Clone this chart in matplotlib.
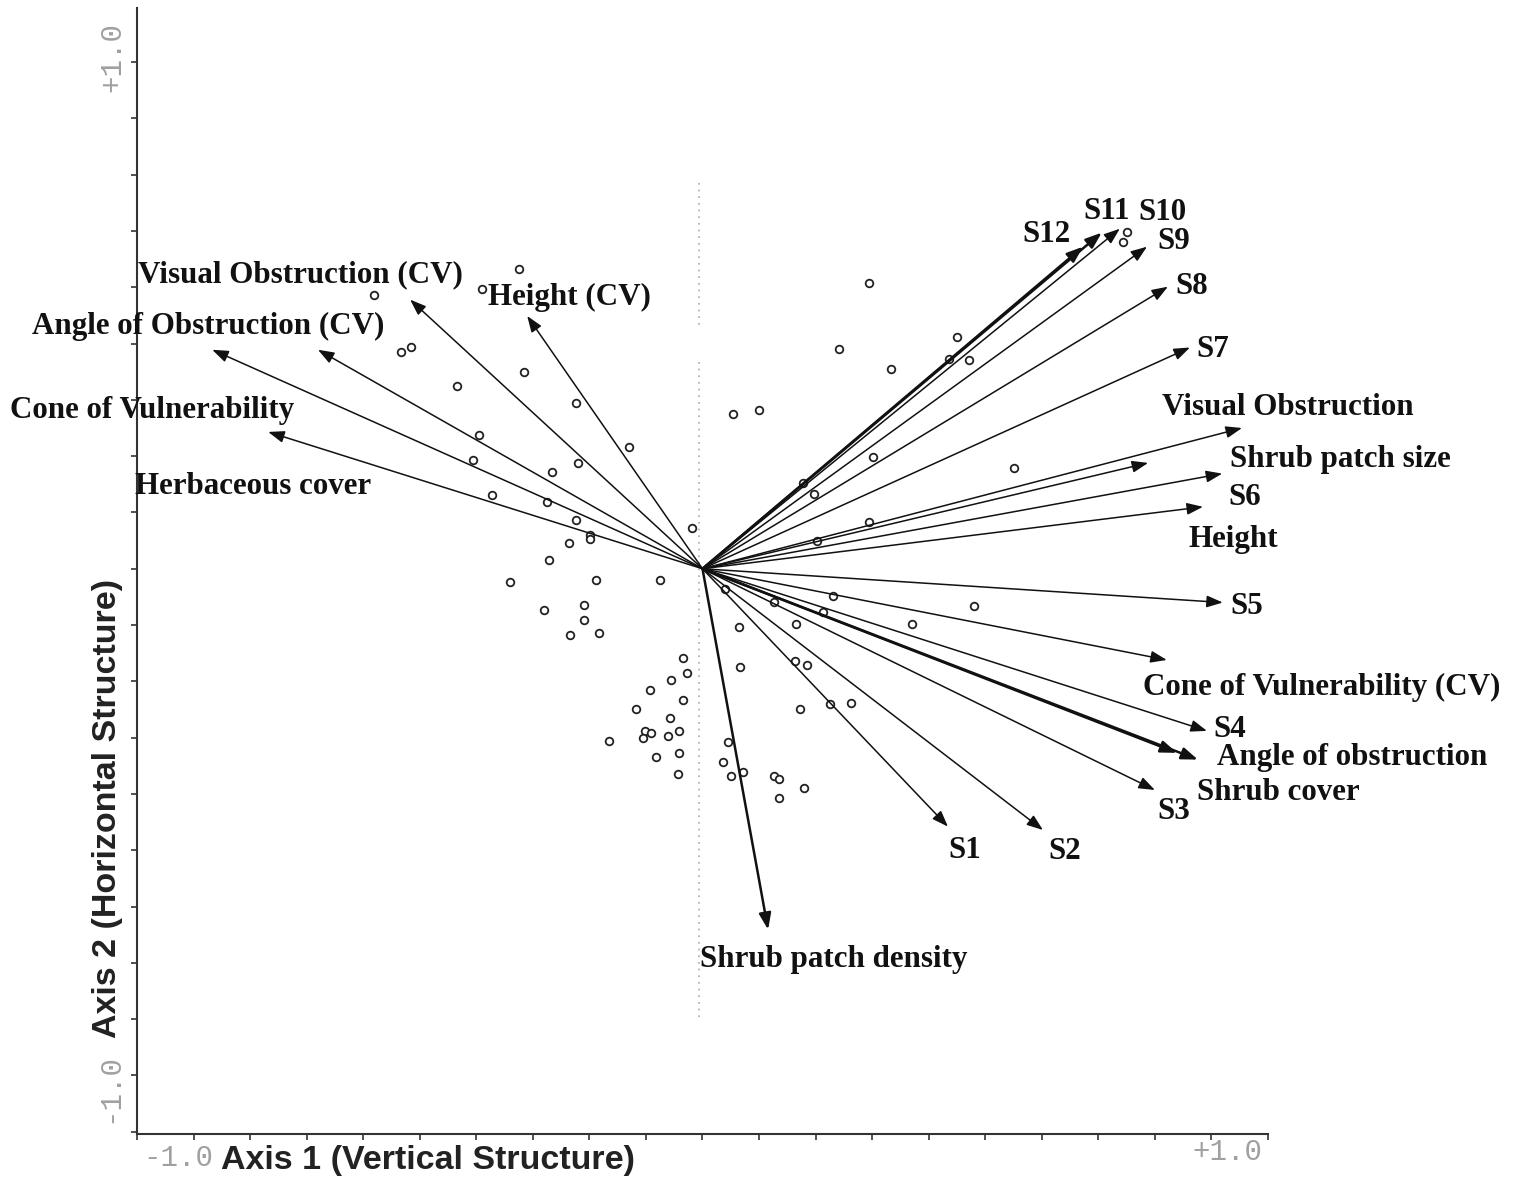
import numpy as np
import matplotlib
matplotlib.use("Agg")
import matplotlib.pyplot as plt

# Sitios (puntos)
sitios_x = [-0.324, -0.581, -0.390, -0.533, -0.515, -0.316, -0.434, -0.224, -0.395, -0.130,
            -0.406, -0.266, -0.220, -0.372, -0.275, -0.224, -0.199, -0.199, -0.236, -0.019,
            -0.271, -0.340, -0.188, -0.075, -0.280, -0.210, -0.210, -0.234, -0.183,
            -0.034, -0.027, -0.056, -0.093, -0.034, -0.118, -0.057, -0.102, -0.091, -0.105,
            -0.061, -0.042, -0.165, -0.082, -0.042, -0.043,
            0.294, 0.450, 0.241, 0.436, 0.471, 0.333, 0.054, 0.100, 0.301, 0.551,
            0.177, 0.197, 0.294, 0.202, 0.040, 0.126, 0.231, 0.213, 0.480, 0.370,
            0.065, 0.165, 0.066, 0.164, 0.185, 0.172, 0.225, 0.262, 0.045, 0.036,
            0.050, 0.072, 0.126, 0.135, 0.179, 0.135, 0.751, 0.744]
sitios_y = [0.533, 0.487, 0.497, 0.385, 0.394, 0.350, 0.325, 0.295, 0.238, 0.217,
            0.194, 0.171, 0.187, 0.131, 0.119, 0.087, 0.060, 0.052, 0.046, 0.073,
            0.016, -0.023, -0.020, -0.020, -0.073, -0.064, -0.091, -0.117, -0.114,
            -0.158, -0.185, -0.197, -0.215, -0.233, -0.250, -0.265, -0.288, -0.291, -0.300,
            -0.297, -0.288, -0.306, -0.334, -0.327, -0.364,
            0.508, 0.412, 0.391, 0.373, 0.371, 0.355, 0.274, 0.282, 0.199, 0.179,
            0.153, 0.133, 0.083, 0.050, -0.036, -0.059, -0.048, -0.076, -0.067, -0.099,
            -0.103, -0.099, -0.174, -0.163, -0.171, -0.250, -0.240, -0.238, -0.307, -0.343,
            -0.368, -0.361, -0.369, -0.373, -0.389, -0.407, 0.599, 0.581]

# Vectores (variables)
variables = ["Visual Obstruction (CV)", "Height (CV)", "Angle of Obstruction (CV)",
             "Cone of Vulnerability", "Herbaceous cover",
             "S12", "S11", "S10", "S9", "S8", "S7",
             "Visual Obstruction", "Height", "Shrub patch size", "S6",
             "S5", "Cone of Vulnerability (CV)", "S4", "Angle of obstruction",
             "Shrub cover", "S3", "S2", "S1", "Shrub patch density"]
vec_x = [-0.517, -0.310, -0.680, -0.867, -0.768,
         0.673, 0.706, 0.738, 0.786, 0.823, 0.862,
         0.954, 0.788, 0.919, 0.885,
         0.920, 0.821, 0.892, 0.839,
         0.876, 0.800, 0.602, 0.434, 0.116]
vec_y = [0.478, 0.449, 0.389, 0.389, 0.243,
         0.572, 0.597, 0.604, 0.572, 0.501, 0.393,
         0.250, 0.188, 0.169, 0.110,
         -0.060, -0.162, -0.288, -0.327,
         -0.339, -0.393, -0.464, -0.458, -0.641]

# Posicion de las etiquetas (inicio del texto)
etiq_x = [-0.998, -0.379, -1.186, -1.225, -1.004,
          0.565, 0.673, 0.770, 0.804, 0.836, 0.874,
          0.813, 0.859, 0.933, 0.930,
          0.933, 0.779, 0.903, 0.910,
          0.874, 0.805, 0.611, 0.434, -0.004]
etiq_y = [0.522, 0.481, 0.430, 0.281, 0.146,
          0.593, 0.634, 0.632, 0.581, 0.501, 0.389,
          0.286, 0.052, 0.194, 0.126,
          -0.067, -0.211, -0.286, -0.336,
          -0.398, -0.432, -0.503, -0.501, -0.694]

gruesas = ["S12", "S11", "Angle of obstruction", "Shrub cover", "Shrub patch density"]

# Linea punteada del eje
punteada_x = -0.006
punteada_tramos = [(0.686, 0.433), (0.368, -0.798)]

fig = plt.figure(figsize=(15.2, 11.8), dpi=100)
ax = fig.add_axes([137 / 1520, 46 / 1180, 1131 / 1520, 1126 / 1180])
ax.set_xlim(-1.0, 1.0)
ax.set_ylim(-1.004, 0.996)

for y0, y1 in punteada_tramos:
    ax.plot([punteada_x, punteada_x], [y0, y1], color="#aaaaaa", lw=1.2,
            linestyle=(0, (1, 3)), zorder=1)

ax.scatter(sitios_x, sitios_y, s=30, facecolors="white", edgecolors="#222222",
           linewidths=1.3, zorder=3)

for nombre, vx, vy, tx, ty in zip(variables, vec_x, vec_y, etiq_x, etiq_y):
    lw = 1.8 if nombre in gruesas else 1.1
    ax.annotate("", xy=(vx, vy), xytext=(0, 0),
                arrowprops=dict(arrowstyle="-|>,head_length=0.65,head_width=0.24",
                                mutation_scale=15, lw=lw, color="#111111",
                                shrinkA=0, shrinkB=0), zorder=4)
    ax.text(tx, ty, nombre, ha="left", va="center", fontsize=22.3,
            family="Liberation Serif", fontweight="bold", color="#111111",
            clip_on=False, zorder=5)

# Ejes
for lado in ["top", "right"]:
    ax.spines[lado].set_visible(False)
for lado in ["left", "bottom"]:
    ax.spines[lado].set_linewidth(1.5)
    ax.spines[lado].set_color("#333333")
ax.set_xticks(np.arange(-1.0, 1.001, 0.1))
ax.set_yticks(np.arange(-1.0, 0.95, 0.1))
ax.set_xticklabels([])
ax.set_yticklabels([])
ax.tick_params(direction="out", length=4, width=1.2, color="#333333")

gris = "#a0a0a0"
fig.text(112 / 1520, 1 - 57 / 1180, "+1.0", rotation=90, ha="center", va="center",
         fontsize=21, family="Liberation Mono", color=gris)
fig.text(109 / 1520, 1 - 1088 / 1180, "-1.0", rotation=90, ha="center", va="center",
         fontsize=21, family="Liberation Mono", color=gris)
fig.text(178 / 1520, 1 - 1158 / 1180, "-1.0", ha="center", va="center",
         fontsize=21, family="Liberation Mono", color=gris)
fig.text(1227 / 1520, 1 - 1152 / 1180, "+1.0", ha="center", va="center",
         fontsize=21, family="Liberation Mono", color=gris)

fig.text(428 / 1520, 1 - 1160 / 1180, "Axis 1 (Vertical Structure)", ha="center",
         va="center", fontsize=24.5, family="Liberation Sans", fontweight="bold",
         color="#222222")
fig.text(108 / 1520, 1 - 808 / 1180, "Axis 2 (Horizontal Structure)", rotation=90,
         ha="center", va="center", fontsize=24.5, family="Liberation Sans",
         fontweight="bold", color="#222222")

fig.savefig("out.png", dpi=100)
